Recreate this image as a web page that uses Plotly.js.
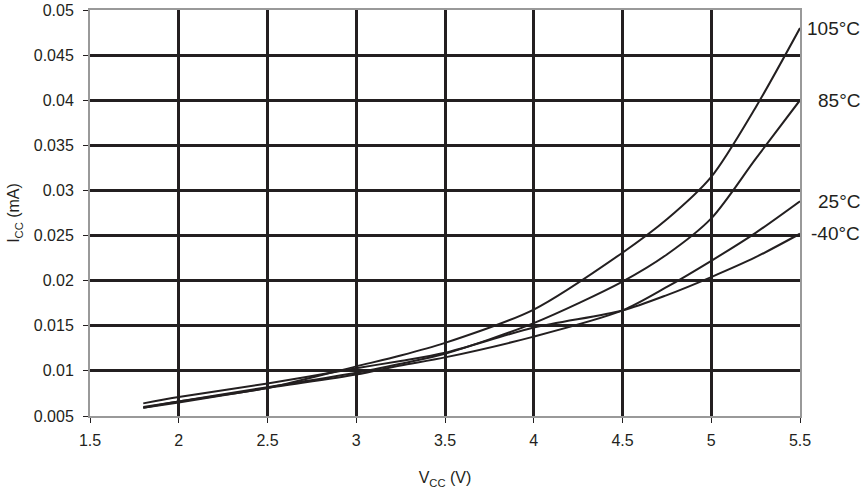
<!DOCTYPE html>
<html>
<head>
<meta charset="utf-8">
<script src="https://cdn.plot.ly/plotly-3.0.1.min.js"></script>
<style>html,body{margin:0;padding:0;background:#fff;}</style>
</head>
<body>
<div id="chart" style="width:864px;height:489px;"></div>
<script>
const vcc = [1.8, 2.0, 2.5, 3.0, 3.25, 3.5, 4.0, 4.5, 4.75, 5.0, 5.25, 5.5];
const i105 = [0.0059, 0.0066, 0.0081, 0.0105, 0.0117, 0.0131, 0.0168, 0.0231, 0.0268, 0.0315, 0.0392, 0.0480];
const i85  = [0.0060, 0.0066, 0.0082, 0.0098, 0.0108, 0.0119, 0.0153, 0.0199, 0.0229, 0.0269, 0.0335, 0.0400];
const i25  = [0.0059, 0.0065, 0.0081, 0.0096, 0.0106, 0.0115, 0.0138, 0.0167, 0.0193, 0.0222, 0.0253, 0.0288];
const im40 = [0.0064, 0.0071, 0.0086, 0.0103, 0.0111, 0.0120, 0.0148, 0.0167, 0.0184, 0.0204, 0.0226, 0.0252];
const seriesNames = ["105°C", "85°C", "25°C", "-40°C"];
const seriesData = [i105, i85, i25, im40];
const xTicks = [1.5, 2, 2.5, 3, 3.5, 4, 4.5, 5, 5.5];
const yTicks = [0.005, 0.01, 0.015, 0.02, 0.025, 0.03, 0.035, 0.04, 0.045, 0.05];
const yTickText = ["0.005", "0.01", "0.015", "0.02", "0.025", "0.03", "0.035", "0.04", "0.045", "0.05"];

const ink = "#231f20";
const fontFam = "Liberation Sans, Arial, sans-serif";
const traces = seriesData.map((ys, k) => ({
  x: vcc, y: ys, type: "scatter", mode: "lines", name: seriesNames[k],
  line: {color: ink, width: 2, shape: "spline", smoothing: 0.8},
  hoverinfo: "skip"
}));

const annotations = seriesData.map((ys, k) => ({
  xref: "paper", yref: "y", x: 1.0873, y: ys[ys.length - 1],
  xanchor: "right", yanchor: "middle", text: seriesNames[k], showarrow: false,
  font: {family: fontFam, size: 19, color: ink}
}));

const layout = {
  width: 864, height: 489,
  margin: {l: 90, r: 64, t: 10, b: 73},
  paper_bgcolor: "#fff", plot_bgcolor: "#fff",
  showlegend: false,
  font: {family: fontFam, size: 16, color: ink},
  xaxis: {
    range: [1.5, 5.5], tickvals: xTicks, ticktext: xTicks.map(String),
    showgrid: true, gridcolor: ink, gridwidth: 3,
    showline: true, linecolor: "#999", linewidth: 2, mirror: true,
    ticks: "outside", ticklen: 5, tickcolor: ink, tickwidth: 1,
    ticklabelstandoff: 4,
    tickfont: {size: 16, color: ink},
    zeroline: false,
    title: {text: "V<sub>CC</sub> (V)", font: {size: 16, color: ink}, standoff: 24}
  },
  yaxis: {
    range: [0.005, 0.05], tickvals: yTicks, ticktext: yTickText,
    showgrid: true, gridcolor: ink, gridwidth: 3,
    showline: true, linecolor: "#999", linewidth: 2, mirror: true,
    ticks: "outside", ticklen: 5, tickcolor: ink, tickwidth: 1,
    ticklabelstandoff: 6,
    tickfont: {size: 16, color: ink},
    zeroline: false,
    title: {text: "I<sub>CC</sub> (mA)", font: {size: 16, color: ink}, standoff: 10}
  },
  annotations: annotations
};

Plotly.newPlot("chart", traces, layout, {displayModeBar: false, staticPlot: true});
</script>
</body>
</html>
